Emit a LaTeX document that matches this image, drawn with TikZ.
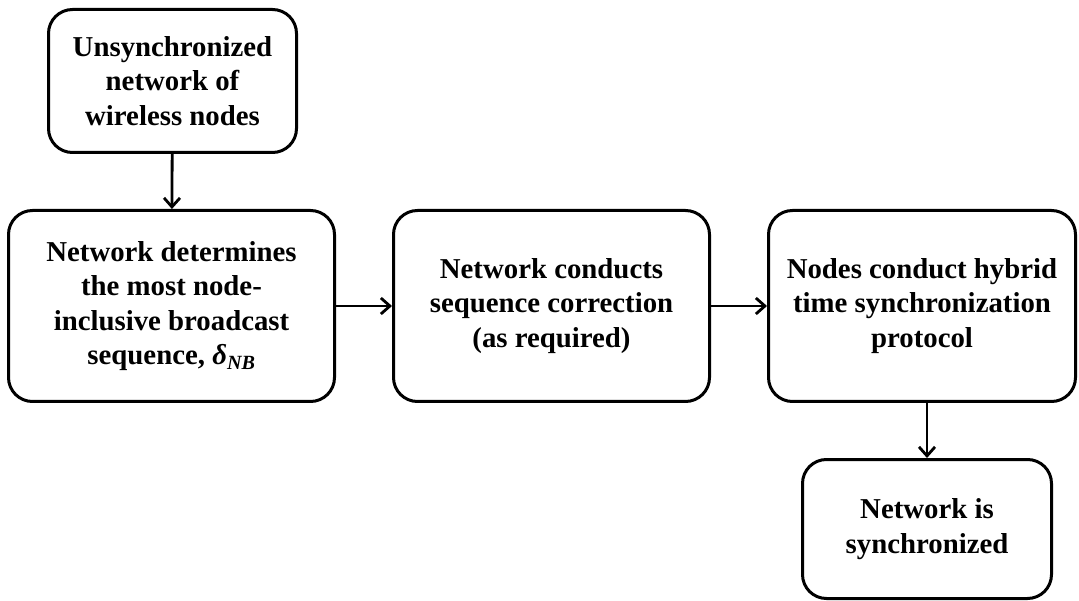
\documentclass[tikz,border=0pt]{standalone}
\usepackage{fontspec}
\setmainfont{Liberation Serif}
\usetikzlibrary{positioning, arrows.meta}

\tikzset{
    stepbox/.style={rectangle, draw, rounded corners=24pt, line width=3pt, align=center,
        font=\bfseries\fontsize{28.8}{34.5}\selectfont, inner sep=0pt},
    flow/.style={line width=2.8pt, -{Straight Barb[length=9pt, width=16pt, line width=2.8pt]}}
}

\begin{document}
\begin{tikzpicture}[x=1pt, y=1pt]
    \useasboundingbox (0, 0) rectangle (1079, -601);

    \node[stepbox, minimum width=248pt, minimum height=143pt] (unsync) at (172.5, -81) {Unsynchronized\\network of\\wireless nodes};
    \node[stepbox, minimum width=326pt, minimum height=191pt] (determine) at (171.5, -306) {Network determines\\the most node-\\inclusive broadcast\\sequence, \textit{δ\textsubscript{NB}}};
    \node[stepbox, minimum width=316pt, minimum height=191pt] (correct) at (551.5, -306) {Network conducts\\sequence correction\\(as required)};
    \node[stepbox, minimum width=307pt, minimum height=191pt] (hybrid) at (922, -306) {Nodes conduct hybrid\\time synchronization\\protocol};
    \node[stepbox, minimum width=249pt, minimum height=139pt] (done) at (927, -529) {Network is\\synchronized};

    \draw[flow] (unsync) -- (determine);
    \draw[flow] (determine) -- (correct);
    \draw[flow] (correct) -- (hybrid);
    \draw[flow] (hybrid.south -| done.north) -- (done);
\end{tikzpicture}
\end{document}
